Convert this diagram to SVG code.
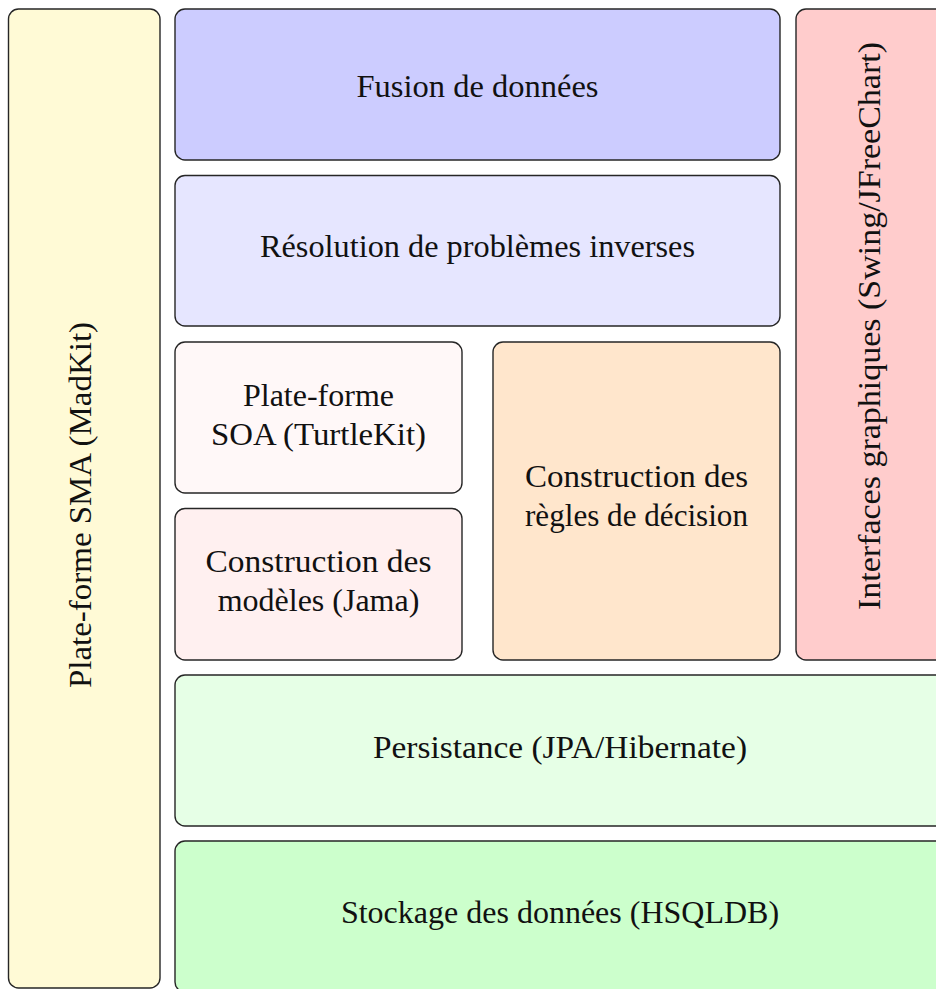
<svg xmlns="http://www.w3.org/2000/svg" width="936" height="989" viewBox="0 0 936 989">
<style>
.box{stroke:#262626;stroke-width:1.4}
.t{font-family:"Liberation Serif","Times New Roman",serif;font-size:32px;fill:#111;text-anchor:middle}
</style>
<rect width="936" height="989" fill="#ffffff"/>
<g id="sma">
<rect class="box" x="8.5" y="9" width="151.5" height="979" rx="10" fill="#fffad6"/>
<text class="t" transform="translate(91,505) rotate(-90)" textLength="366" lengthAdjust="spacingAndGlyphs">Plate-forme SMA (MadKit)</text>
</g>
<g id="fusion">
<rect class="box" x="175" y="9" width="605" height="151" rx="10" fill="#ccccff"/>
<text class="t" x="477.5" y="97" textLength="242" lengthAdjust="spacingAndGlyphs">Fusion de données</text>
</g>
<g id="resolution">
<rect class="box" x="175" y="175.5" width="605" height="150.5" rx="10" fill="#e6e6ff"/>
<text class="t" x="477.5" y="257" textLength="435" lengthAdjust="spacingAndGlyphs">Résolution de problèmes inverses</text>
</g>
<g id="soa">
<rect class="box" x="175" y="342" width="287" height="151" rx="10" fill="#fff8f8"/>
<text class="t" x="318.5" y="406">Plate-forme</text>
<text class="t" x="318.5" y="445" textLength="215" lengthAdjust="spacingAndGlyphs">SOA (TurtleKit)</text>
</g>
<g id="modeles">
<rect class="box" x="175" y="508.5" width="287" height="151.5" rx="10" fill="#fff0f0"/>
<text class="t" x="318.5" y="572" textLength="226" lengthAdjust="spacingAndGlyphs">Construction des</text>
<text class="t" x="318.5" y="611">modèles (Jama)</text>
</g>
<g id="regles">
<rect class="box" x="493" y="342" width="287" height="318" rx="10" fill="#ffe6cc"/>
<text class="t" x="636.5" y="487" textLength="223" lengthAdjust="spacingAndGlyphs">Construction des</text>
<text class="t" x="636.5" y="526" textLength="223" lengthAdjust="spacingAndGlyphs">règles de décision</text>
</g>
<g id="interfaces">
<rect class="box" x="796" y="9" width="150" height="651" rx="10" fill="#ffcccc"/>
<text class="t" transform="translate(880,326) rotate(-90)" textLength="568" lengthAdjust="spacingAndGlyphs">Interfaces graphiques (Swing/JFreeChart)</text>
</g>
<g id="persistance">
<rect class="box" x="175" y="675" width="770" height="151" rx="10" fill="#e6ffe6"/>
<text class="t" x="560" y="758" textLength="374" lengthAdjust="spacingAndGlyphs">Persistance (JPA/Hibernate)</text>
</g>
<g id="stockage">
<rect class="box" x="175" y="841" width="770" height="151" rx="10" fill="#ccffcc"/>
<text class="t" x="560" y="923">Stockage des données (HSQLDB)</text>
</g>
<g id="connectors"></g>
</svg>
